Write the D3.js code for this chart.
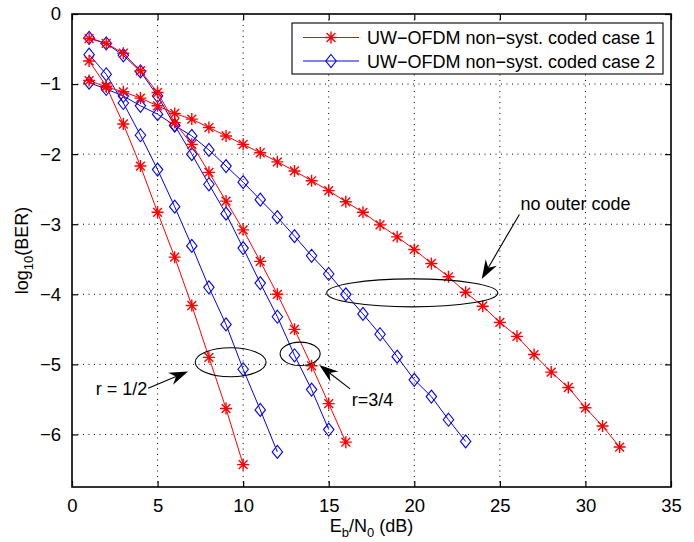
<!DOCTYPE html>
<html>
<head>
<meta charset="utf-8">
<script src="https://cdn.jsdelivr.net/npm/d3@7"></script>
<style>
  body { margin: 0; background: #fff; }
  text { font-family: "Liberation Sans", Arial, Helvetica, sans-serif; fill: #000; }
</style>
</head>
<body>
<div id="chart"></div>
<script>
// Data (log10 BER vs Eb/N0 in dB, one point per dB starting at 1 dB)
const xTicks = [0, 5, 10, 15, 20, 25, 30, 35];
const yTicks = [0, -1, -2, -3, -4, -5, -6];

const case1NoOuter = [-0.95, -1.04, -1.11, -1.2, -1.31, -1.42, -1.5, -1.62, -1.74, -1.86, -1.98, -2.11, -2.24, -2.38, -2.52, -2.68,
  -2.83, -3.01, -3.18, -3.36, -3.56, -3.75, -3.97, -4.17, -4.4, -4.6, -4.86, -5.11, -5.33, -5.62, -5.88, -6.18];
const case1R34 = [-0.35, -0.42, -0.56, -0.81, -1.12, -1.55, -1.86, -2.26, -2.67, -3.08, -3.53, -4.0, -4.5, -5.02, -5.56, -6.11];
const case1R12 = [-0.67, -1.03, -1.57, -2.17, -2.83, -3.47, -4.16, -4.9, -5.63, -6.43];

const case2NoOuter = [-0.98, -1.07, -1.17, -1.31, -1.43, -1.59, -1.74, -1.94, -2.17, -2.4, -2.65, -2.9, -3.17, -3.45, -3.71, -4.0,
  -4.28, -4.57, -4.89, -5.22, -5.46, -5.79, -6.1];
const case2R34 = [-0.34, -0.42, -0.59, -0.82, -1.17, -1.59, -2.0, -2.43, -2.85, -3.34, -3.84, -4.32, -4.87, -5.36, -5.93];
const case2R12 = [-0.58, -0.86, -1.27, -1.73, -2.22, -2.75, -3.31, -3.9, -4.43, -5.07, -5.65, -6.25];

const legendLabels = ["UW\u2212OFDM non\u2212syst. coded case 1", "UW\u2212OFDM non\u2212syst. coded case 2"];

// annotations, in data units
const ellipses = [
  {cx: 19.88, cy: -3.98, rx: 5.0, ry: 0.2},
  {cx: 9.27, cy: -4.97, rx: 2.07, ry: 0.207},
  {cx: 13.33, cy: -4.85, rx: 1.17, ry: 0.167}
];
const arrows = [
  {x1: 26.14, y1: -2.86, x2: 23.94, y2: -3.78},
  {x1: 4.45, y1: -5.34, x2: 6.78, y2: -5.1},
  {x1: 16.25, y1: -5.35, x2: 14.45, y2: -5.01}
];
const notes = [
  {x: 26.2, y: -2.8, text: "no outer code", anchor: "start"},
  {x: 4.4, y: -5.44, text: "r = 1/2", anchor: "end"},
  {x: 16.35, y: -5.6, text: "r=3/4", anchor: "start"}
];

// Set margins
const margin = {top: 14, right: 23, bottom: 55, left: 72};
const W = 694, H = 542;
const width = W - margin.left - margin.right;
const height = H - margin.top - margin.bottom;

const svg = d3.select("#chart").append("svg")
  .attr("width", W)
  .attr("height", H);
const g = svg.append("g")
  .attr("transform", "translate(" + margin.left + "," + margin.top + ")");

const x = d3.scaleLinear().domain([0, 35]).range([0, width]);
const y = d3.scaleLinear().domain([-6.75, 0]).range([height, 0]);

// dotted grid
g.append("g").selectAll("line")
  .data(xTicks.filter(d => d > 0 && d < 35))
  .enter().append("line")
    .attr("x1", d => x(d)).attr("x2", d => x(d))
    .attr("y1", 0).attr("y2", height)
    .attr("stroke", "#000").attr("stroke-width", 1)
    .attr("stroke-dasharray", "1,4.5");
g.append("g").selectAll("line")
  .data(yTicks.filter(d => d < 0))
  .enter().append("line")
    .attr("x1", 0).attr("x2", width)
    .attr("y1", d => y(d)).attr("y2", d => y(d))
    .attr("stroke", "#000").attr("stroke-width", 1)
    .attr("stroke-dasharray", "1,4.5");

// axes with inward ticks
const fmt = d3.format("d");
const xAxis = g.append("g")
  .attr("transform", "translate(0," + height + ")")
  .call(d3.axisBottom(x).tickValues(xTicks).tickFormat(fmt).tickSizeInner(-6).tickSizeOuter(0).tickPadding(12));
const yAxis = g.append("g")
  .call(d3.axisLeft(y).tickValues(yTicks).tickFormat(fmt).tickSizeInner(-6).tickSizeOuter(0).tickPadding(11));
g.append("g")
  .call(d3.axisTop(x).tickValues(xTicks).tickSizeInner(-6).tickSizeOuter(0).tickFormat(""));
g.append("g")
  .attr("transform", "translate(" + width + ",0)")
  .call(d3.axisRight(y).tickValues(yTicks).tickSizeInner(-6).tickSizeOuter(0).tickFormat(""));
g.selectAll(".domain").remove();
g.selectAll(".tick line").attr("stroke", "#000").attr("stroke-width", 1.2);
xAxis.selectAll("text").attr("font-size", 18.5);
yAxis.selectAll("text").attr("font-size", 18.5);

// box
g.append("rect")
  .attr("width", width).attr("height", height)
  .attr("fill", "none").attr("stroke", "#000").attr("stroke-width", 1.6);

// series
const series = [
  {values: case2R12, color: "#0000ff", marker: "diamond"},
  {values: case2R34, color: "#0000ff", marker: "diamond"},
  {values: case2NoOuter, color: "#0000ff", marker: "diamond"},
  {values: case1R12, color: "#ff0000", marker: "star"},
  {values: case1R34, color: "#ff0000", marker: "star"},
  {values: case1NoOuter, color: "#ff0000", marker: "star"}
];

const line = d3.line().x((d, i) => x(i + 1)).y(d => y(d));

function drawMarker(sel, type, color) {
  if (type === "star") {
    const r = 6, q = 4.4;
    sel.append("path")
      .attr("d", "M" + (-r) + ",0H" + r + "M0," + (-r) + "V" + r +
        "M" + (-q) + "," + (-q) + "L" + q + "," + q + "M" + (-q) + "," + q + "L" + q + "," + (-q))
      .attr("stroke", color).attr("stroke-width", 1.4).attr("fill", "none");
  } else {
    sel.append("path")
      .attr("d", "M0,-6.5L5.2,0L0,6.5L-5.2,0Z")
      .attr("stroke", color).attr("stroke-width", 1.1).attr("fill", "none");
  }
}

series.forEach(function(s) {
  g.append("path")
    .datum(s.values)
    .attr("d", line)
    .attr("fill", "none")
    .attr("stroke", s.color)
    .attr("stroke-width", 1);
  g.append("g").selectAll("g")
    .data(s.values)
    .enter().append("g")
      .attr("transform", (d, i) => "translate(" + x(i + 1) + "," + y(d) + ")")
      .each(function() { drawMarker(d3.select(this), s.marker, s.color); });
});

// ellipses
g.append("g").selectAll("ellipse")
  .data(ellipses)
  .enter().append("ellipse")
    .attr("cx", d => x(d.cx)).attr("cy", d => y(d.cy))
    .attr("rx", d => x(d.rx) - x(0)).attr("ry", d => y(0) - y(d.ry))
    .attr("fill", "none").attr("stroke", "#000").attr("stroke-width", 1.1);

// arrows
arrows.forEach(function(a) {
  const x1 = x(a.x1), y1 = y(a.y1), x2 = x(a.x2), y2 = y(a.y2);
  const ang = Math.atan2(y2 - y1, x2 - x1);
  const len = 19, half = 6.5, notch = 13;
  const ux = Math.cos(ang), uy = Math.sin(ang);
  const bx = x2 - ux * len, by = y2 - uy * len;
  const nx = x2 - ux * notch, ny = y2 - uy * notch;
  g.append("line")
    .attr("x1", x1).attr("y1", y1).attr("x2", nx).attr("y2", ny)
    .attr("stroke", "#000").attr("stroke-width", 1.1);
  g.append("path")
    .attr("d", "M" + x2 + "," + y2 +
      "L" + (bx - uy * half) + "," + (by + ux * half) +
      "L" + nx + "," + ny +
      "L" + (bx + uy * half) + "," + (by - ux * half) + "Z")
    .attr("fill", "#000");
});

g.append("g").selectAll("text")
  .data(notes)
  .enter().append("text")
    .attr("x", d => x(d.x)).attr("y", d => y(d.y))
    .attr("text-anchor", d => d.anchor)
    .attr("font-size", 18)
    .text(d => d.text);

// axis labels
const xl = svg.append("text")
  .attr("x", margin.left + width / 2)
  .attr("y", 532)
  .attr("text-anchor", "middle")
  .attr("font-size", 18);
xl.append("tspan").text("E");
xl.append("tspan").attr("font-size", 13).attr("dy", 5).text("b");
xl.append("tspan").attr("dy", -5).text("/N");
xl.append("tspan").attr("font-size", 13).attr("dy", 5).text("0");
xl.append("tspan").attr("dy", -5).text(" (dB)");

const yl = svg.append("text")
  .attr("transform", "translate(28," + (margin.top + height / 2) + ") rotate(-90)")
  .attr("text-anchor", "middle")
  .attr("font-size", 18);
yl.append("tspan").text("log");
yl.append("tspan").attr("font-size", 13).attr("dy", 5).text("10");
yl.append("tspan").attr("dy", -5).text("(BER)");

// legend
const legend = svg.append("g").attr("transform", "translate(292,23)");
legend.append("rect")
  .attr("width", 371).attr("height", 51)
  .attr("fill", "#fff").attr("stroke", "#000").attr("stroke-width", 1.1);
const legendItems = [
  {label: legendLabels[0], color: "#ff0000", marker: "star"},
  {label: legendLabels[1], color: "#0000ff", marker: "diamond"}
];
legendItems.forEach(function(it, i) {
  const row = legend.append("g").attr("transform", "translate(0," + (14.5 + i * 23.5) + ")");
  row.append("line")
    .attr("x1", 11).attr("x2", 67)
    .attr("stroke", it.color).attr("stroke-width", 1);
  drawMarker(row.append("g").attr("transform", "translate(39,0)"), it.marker, it.color);
  row.append("text")
    .attr("x", 75).attr("y", 6.5)
    .attr("font-size", 18)
    .text(it.label);
});
</script>
</body>
</html>
